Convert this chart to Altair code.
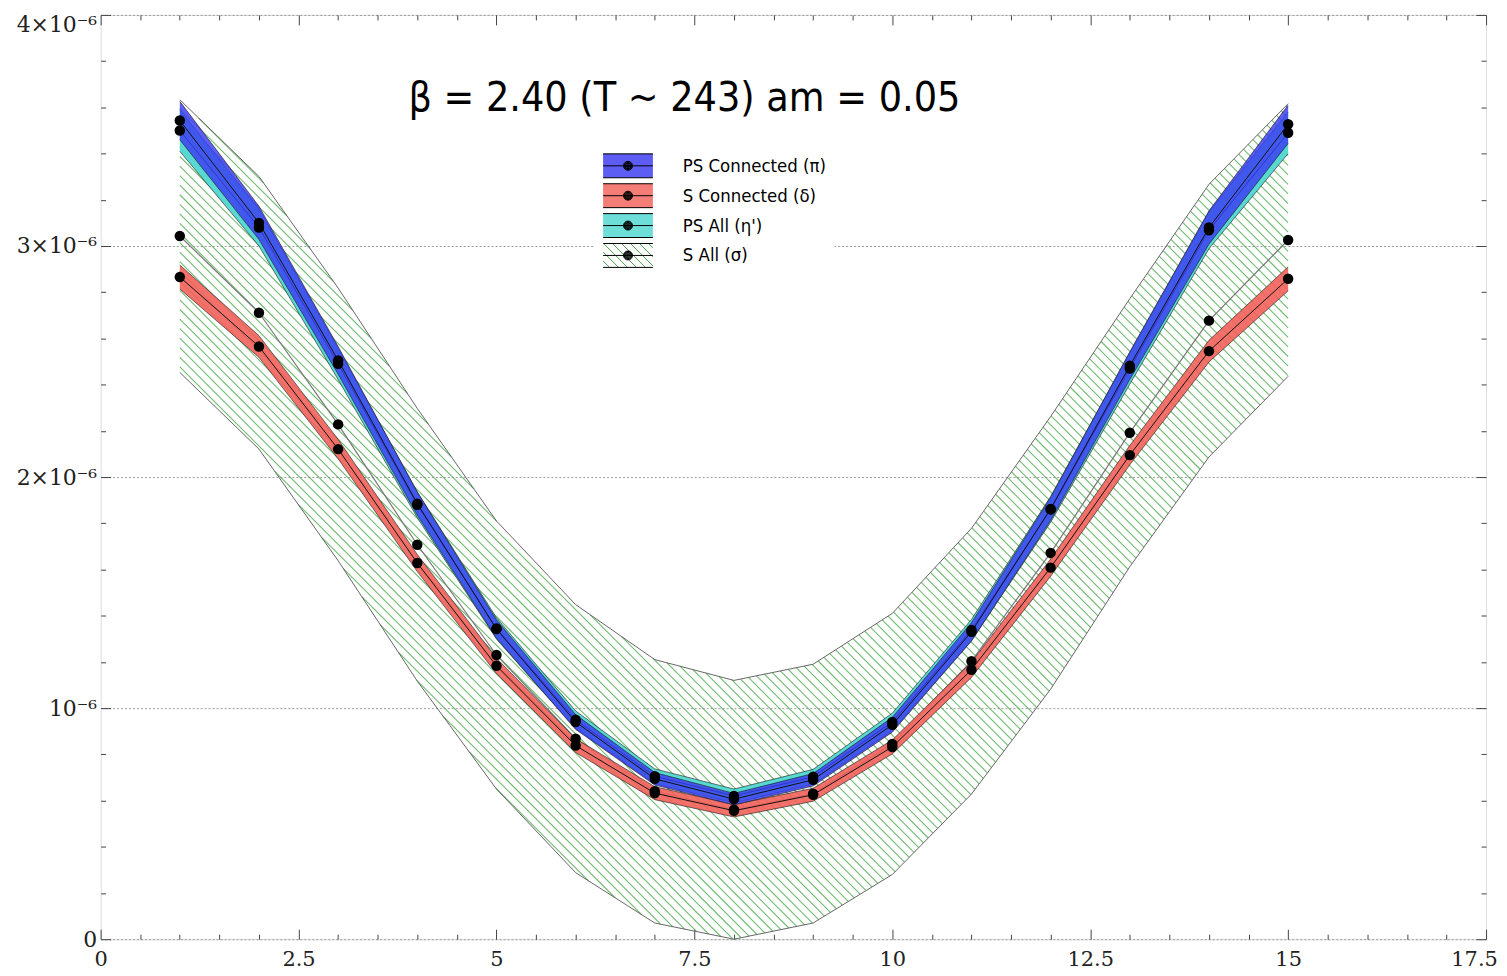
import altair as alt
import pandas as pd

# ---------------- data (y values in units of 1e-6) ----------------
T = list(range(1, 16))
PS_CONN     = [3.543, 3.100, 2.505, 1.885, 1.342, 0.940, 0.694, 0.606, 0.690, 0.928, 1.330, 1.862, 2.482, 3.080, 3.527]
PS_CONN_ERR = [0.083, 0.072, 0.060, 0.050, 0.040, 0.032, 0.027, 0.025, 0.027, 0.032, 0.040, 0.050, 0.060, 0.072, 0.083]
S_CONN      = [2.866, 2.565, 2.121, 1.628, 1.183, 0.838, 0.632, 0.556, 0.625, 0.832, 1.166, 1.608, 2.095, 2.545, 2.858]
S_CONN_ERR  = [0.052, 0.047, 0.042, 0.037, 0.033, 0.030, 0.028, 0.027, 0.028, 0.030, 0.033, 0.037, 0.042, 0.047, 0.052]
PS_ALL      = [3.500, 3.080, 2.490, 1.880, 1.345, 0.950, 0.705, 0.620, 0.703, 0.940, 1.338, 1.860, 2.470, 3.068, 3.490]
PS_ALL_ERR  = [0.090, 0.080, 0.068, 0.056, 0.046, 0.038, 0.032, 0.030, 0.032, 0.038, 0.046, 0.056, 0.068, 0.080, 0.090]
S_ALL       = [3.043, 2.711, 2.228, 1.707, 1.230, 0.868, 0.640, 0.560, 0.630, 0.845, 1.203, 1.672, 2.192, 2.677, 3.026]
S_ALL_ERR   = [0.590, 0.590, 0.590, 0.590, 0.580, 0.580, 0.570, 0.560, 0.560, 0.565, 0.575, 0.590, 0.580, 0.590, 0.590]

SERIES = ["PS Connected (π)", "S Connected (δ)", "PS All (η')", "S All (σ)"]
BAND_FILLS = ["#3a3af2", "#f2625a", "#4fd8d0", "transparent"]
X_TICKS = [0, 2.5, 5, 7.5, 10, 12.5, 15, 17.5]
X_MINOR = [k * 0.5 for k in range(36)]
Y_TICKS = [0, 1, 2, 3, 4]
Y_MINOR = [round(k * 0.2, 6) for k in range(21)]
TITLE = "β = 2.40 (T ~ 243) am = 0.05"

# ---------------- layout constants ----------------
W, H = 1391, 928
X_MAX, Y_MAX = 17.5, 4.0
SANS = "DejaVu Sans Condensed, Liberation Sans Narrow, DejaVu Sans"
SERIF = "DejaVu Serif"
HATCH_SPACING_PX = 9.6   # horizontal spacing of the 45° hatch lines

rows = []
for i, (name, vals, errs) in enumerate(zip(SERIES, [PS_CONN, S_CONN, PS_ALL, S_ALL],
                                           [PS_CONN_ERR, S_CONN_ERR, PS_ALL_ERR, S_ALL_ERR])):
    for t, v, e in zip(T, vals, errs):
        rows.append(dict(t=t, series=name, y=v, lo=max(v - e, 0.0), hi=v + e,
                         sB=f"b{i}", sC=f"c{i}"))
df = pd.DataFrame(rows)
df["sA"] = df["series"]
B_DOMAIN = [f"b{i}" for i in range(4)]
C_DOMAIN = [f"c{i}" for i in range(4)]

# ---------------- hatch segments: 45° lines clipped to the sigma band ----------------
sig = df[df.series == SERIES[3]]
LO = list(sig.lo)
HI = list(sig.hi)
K = (W / X_MAX) / (H / Y_MAX)          # data slope of a 45° screen line
DC = K * HATCH_SPACING_PX / (W / X_MAX)
c_min = min(l + K * t for t, l in zip(T, LO))
c_max = max(h + K * t for t, h in zip(T, HI))
hatch_rows = []
c = c_min + DC / 2
while c < c_max:
    spans = []
    cur = None
    for i in range(len(T) - 1):
        t0, t1 = T[i], T[i + 1]
        a, b = 0.0, 1.0
        for v0, v1 in [(c - K * t0 - LO[i], c - K * t1 - LO[i + 1]),
                       (HI[i] - (c - K * t0), HI[i + 1] - (c - K * t1))]:
            if v0 >= 0 and v1 >= 0:
                continue
            if v0 < 0 and v1 < 0:
                a, b = 1.0, 0.0
                break
            root = v0 / (v0 - v1)
            if v0 < 0:
                a = max(a, root)
            else:
                b = min(b, root)
        if a < b:
            ta, tb = t0 + a * (t1 - t0), t0 + b * (t1 - t0)
            if cur is not None and abs(cur[1] - ta) < 1e-9:
                cur[1] = tb
            else:
                if cur is not None:
                    spans.append(cur)
                cur = [ta, tb]
        elif cur is not None:
            spans.append(cur)
            cur = None
    if cur is not None:
        spans.append(cur)
    for ta, tb in spans:
        hatch_rows.append([ta, c - K * ta, tb, c - K * tb])
    c += DC
hatch_df = pd.DataFrame(hatch_rows, columns=["t", "v", "t2", "v2"])

xs = alt.Scale(domain=[0, X_MAX], nice=False, zero=False)
ys = alt.Scale(domain=[0, Y_MAX], nice=False, zero=False)

# ---------------- axes ----------------
AX_X_LAB = alt.Axis(orient="bottom", values=X_TICKS, labelExpr="'' + datum.value", ticks=False,
                    domain=False, grid=False, labelFont=SERIF, labelFontSize=21, labelColor="#222",
                    labelPadding=9, labelFlush=False, labelOverlap=False, title=None,
                    labelOffset={"condition": {"test": "datum.value == 17.5", "value": -12}, "value": 0})
AX_Y_LAB = alt.Axis(orient="left", values=Y_TICKS, ticks=False, domain=False, grid=True,
                    gridColor="#9a9a9a", gridDash=[2, 2], gridWidth=1,
                    labelFont=SERIF, labelFontSize=22, labelColor="#222", labelPadding=4,
                    labelFlush=False, labelOverlap=False, title=None,
                    labelBaseline={"condition": {"test": "datum.value == 4", "value": "top"}, "value": "middle"},
                    labelExpr="datum.value == 0 ? '0' : (datum.value == 1 ? '10⁻⁶' : format(datum.value, 'd') + '×10⁻⁶')")

X_TICK_SIZE = {"condition": {"test": "datum.value % 2.5 == 0", "value": 10}, "value": 5}
Y_TICK_SIZE = {"condition": {"test": "abs(datum.value - round(datum.value)) < 0.001", "value": 10}, "value": 5}


def in_axis_x(orient):
    return alt.Axis(orient=orient, offset=-H, values=X_MINOR, labels=False, domain=False, grid=False,
                    tickColor="#444", tickWidth=1, tickSize=X_TICK_SIZE, title=None)


def in_axis_y(orient):
    return alt.Axis(orient=orient, offset=-W, values=Y_MINOR, labels=False, domain=False, grid=False,
                    tickColor="#444", tickWidth=1, tickSize=Y_TICK_SIZE, title=None)


# ---------------- legends (three overlaid legends) ----------------
SYM_SIZE = 900                      # sqrt -> 30 px, path unit = 15 px
U = (SYM_SIZE ** 0.5) / 2
SW_W, SW_H = 50.0, 24.0             # swatch size in px
XL, XR = -1.0, -1.0 + SW_W / U
HY = SW_H / 2 / U
XC = (XL + XR) / 2
RECT_PATH = f"M{XL:.3f},{-HY:.3f}H{XR:.3f}V{HY:.3f}H{XL:.3f}Z"


def hatch_path(step_px=9.0):
    segs = []
    step = step_px / U
    cc = -(XR - XL) - HY + step / 2
    while cc < HY + (XR - XL):
        # line: y = (x - XL) + cc
        lo = max(XL, XL - HY - cc)
        hi = min(XR, XL + HY - cc)
        if hi - lo > 1e-6:
            segs.append(f"M{lo:.3f},{lo - XL + cc:.3f}L{hi:.3f},{hi - XL + cc:.3f}")
        cc += step
    return "".join(segs)


def ring(rad):
    return (f"M{XC - rad:.3f},0A{rad:.3f},{rad:.3f} 0 1,0 {XC + rad:.3f},0"
            f"A{rad:.3f},{rad:.3f} 0 1,0 {XC - rad:.3f},0")


DOT_PATH = (f"M{XL:.3f},{-HY:.3f}H{XR:.3f}M{XL:.3f},0H{XR:.3f}M{XL:.3f},{HY:.3f}H{XR:.3f}"
            + "".join(ring(px / U) for px in [0.4, 1.1, 1.8, 2.5, 3.2, 3.9, 4.5]))

LEG_POS = dict(orient="none", legendX=496, legendY=128, direction="vertical", title=None,
               symbolSize=SYM_SIZE, symbolStrokeWidth=1, rowPadding=0, labelOffset=49.5,
               labelFont=SANS, labelFontSize=18.5, labelLimit=400, padding=8, columns=1)

LEG_A = alt.Legend(symbolType=RECT_PATH, fillColor="white", labelColor="black",
                   symbolStrokeColor="transparent", symbolOpacity=0.82, zindex=1, **LEG_POS)
LEG_B = alt.Legend(symbolType=hatch_path(), labelExpr="''", symbolFillColor="transparent",
                   symbolOpacity=1, zindex=2, **LEG_POS)
LEG_C = alt.Legend(labelExpr="''", symbolFillColor="transparent", symbolStrokeColor="black",
                   symbolOpacity=1, zindex=3, **LEG_POS)

base = alt.Chart(df)


def sel(name):
    return base.transform_filter(alt.datum.series == name)


X_NONE = alt.X("t:Q", scale=xs, axis=None)

layers = []
# sigma band: hatch lines + outline + centre line
layers.append(alt.Chart(hatch_df).mark_rule(color="#4caa4c", strokeWidth=1.1, opacity=0.8).encode(
    x=alt.X("t:Q", scale=xs, axis=AX_X_LAB), x2="t2:Q",
    y=alt.Y("v:Q", scale=ys, axis=AX_Y_LAB), y2="v2:Q"))
layers.append(sel(SERIES[3]).mark_line(color="#666", strokeWidth=1).encode(
    x=alt.X("t:Q", scale=xs, axis=in_axis_x("top")),
    y=alt.Y("hi:Q", scale=ys, axis=in_axis_y("right"))))
layers.append(sel(SERIES[3]).mark_line(color="#666", strokeWidth=1).encode(
    x=alt.X("t:Q", scale=xs, axis=in_axis_x("bottom")),
    y=alt.Y("lo:Q", scale=ys, axis=in_axis_y("left"))))
layers.append(sel(SERIES[3]).mark_line(color="#777", strokeWidth=1.2).encode(
    x=X_NONE, y=alt.Y("y:Q", scale=ys, axis=None)))

fill_scale = alt.Scale(domain=SERIES, range=BAND_FILLS)
for name, op in [(SERIES[2], 0.95), (SERIES[1], 0.9), (SERIES[0], 0.82)]:
    d = sel(name)
    layers.append(d.mark_area(fillOpacity=op, strokeWidth=1).encode(
        x=X_NONE, y=alt.Y("lo:Q", scale=ys, axis=None), y2="hi:Q",
        fill=alt.Fill("sA:N", scale=fill_scale, legend=LEG_A)))
    for fld in ["lo", "hi"]:
        layers.append(d.mark_line(color="#222", strokeWidth=0.8, opacity=0.8).encode(
            x=X_NONE, y=alt.Y(f"{fld}:Q", scale=ys, axis=None)))
    layers.append(d.mark_line(color="#111", strokeWidth=1).encode(
        x=X_NONE, y=alt.Y("y:Q", scale=ys, axis=None)))

# points
layers.append(base.mark_circle(color="black", size=110, opacity=1).encode(
    x=X_NONE, y=alt.Y("y:Q", scale=ys, axis=None)))

# invisible layers that only carry the overlaid legend parts
layers.append(base.transform_filter("false").mark_point(filled=False, strokeWidth=1, opacity=1).encode(
    x=X_NONE, y=alt.Y("y:Q", scale=ys, axis=None),
    stroke=alt.Stroke("sB:N", scale=alt.Scale(domain=B_DOMAIN,
                      range=["transparent", "transparent", "transparent", "#4aa04a"]), legend=LEG_B)))
layers.append(base.transform_filter("false").mark_point(filled=False, color="black", strokeWidth=1, opacity=1).encode(
    x=X_NONE, y=alt.Y("y:Q", scale=ys, axis=None),
    shape=alt.Shape("sC:N", scale=alt.Scale(domain=C_DOMAIN, range=[DOT_PATH] * 4), legend=LEG_C)))

chart = alt.layer(*layers).resolve_axis(x="independent", y="independent").properties(
    width=W, height=H,
    padding={"left": 93, "top": 5, "right": 13, "bottom": 35},
    autosize=alt.AutoSizeParams(type="none"),
    title=alt.TitleParams(text=TITLE, anchor="start", orient="top", frame="group", offset=0,
                          dx=309, dy=138, baseline="alphabetic", font=SANS, fontSize=41,
                          fontWeight="normal", color="black"),
).configure_view(stroke="#333", strokeWidth=1.5).configure(background="white")

chart.save("out.html", embed_options={"renderer": "svg", "actions": False})
